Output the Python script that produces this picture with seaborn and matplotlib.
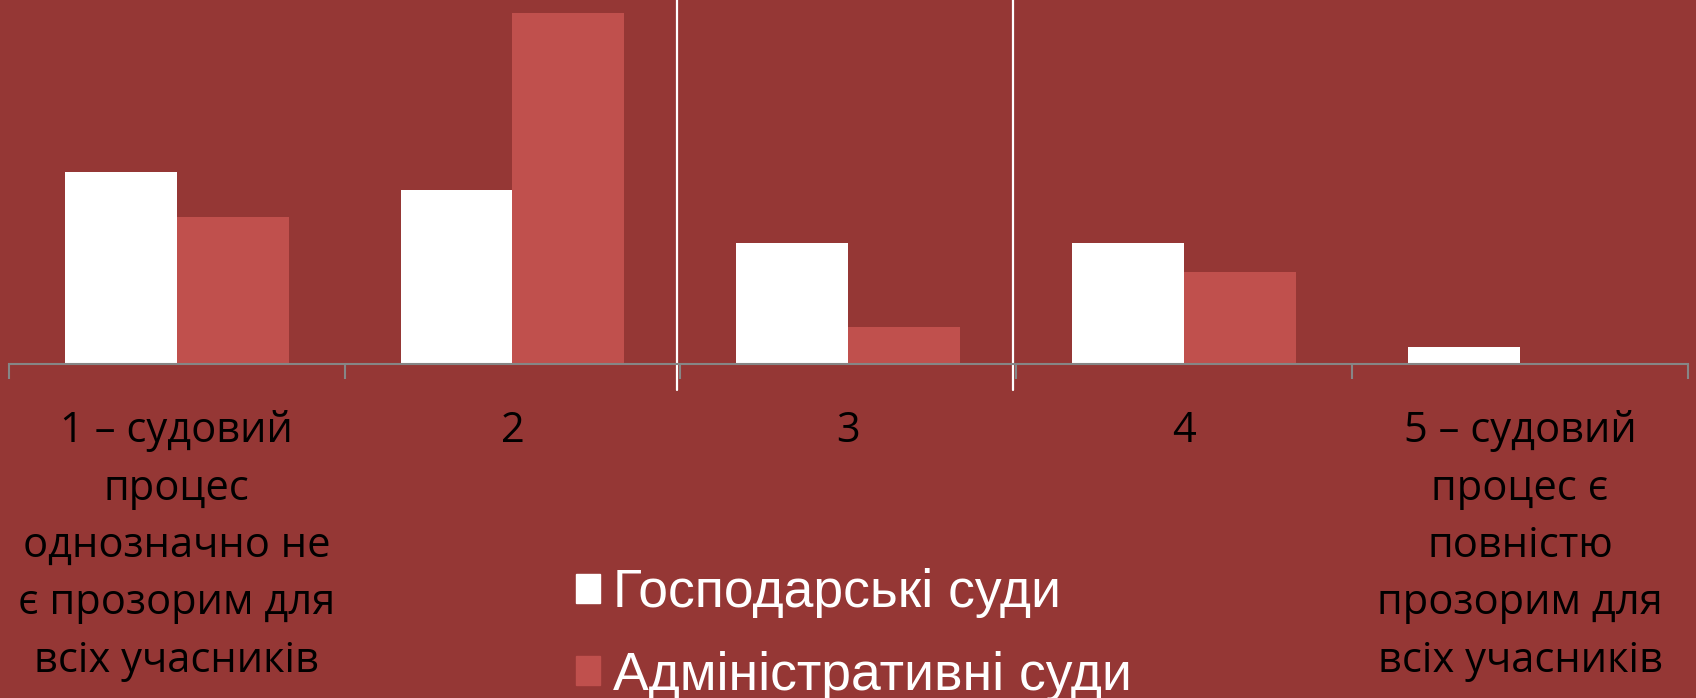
import pandas as pd
import matplotlib.pyplot as plt
import seaborn as sns

# Data (percent of respondents)
categories = ['1 – судовий\nпроцес\nоднозначно не\nє прозорим для\nвсіх учасників',
              '2', '3', '4',
              '5 – судовий\nпроцес є\nповністю\nпрозорим для\nвсіх учасників']
series = ['Господарські суди', 'Адміністративні суди']
commercial = [30.6, 27.8, 19.4, 19.4, 2.8]
administrative = [23.5, 55.9, 5.9, 14.7, 0.0]

df = pd.DataFrame({
    'Category': categories * 2,
    'Value': commercial + administrative,
    'Court': [series[0]] * 5 + [series[1]] * 5,
})

bg = '#953735'
color_map = {series[0]: '#FFFFFF', series[1]: '#C0504D'}
axis_gray = '#868686'

sns.set_style('white')
plt.rcParams['font.family'] = ['Open Sans', 'DejaVu Sans']

fig = plt.figure(figsize=(16.96, 6.98), dpi=100, facecolor=bg)
ax = fig.add_axes([0.0051, 0.4778, 0.9902, 0.5222])
ax.set_facecolor(bg)

sns.barplot(data=df, x='Category', y='Value', hue='Court', palette=color_map,
            width=2 / 3, linewidth=0, saturation=1, ax=ax, legend=False)

ax.set_xlim(-0.5, 4.5)
ax.set_ylim(0, 58)
ax.set_xlabel('')
ax.set_ylabel('')
ax.set_yticks([])

# category labels centred, tick marks at the category boundaries
ax.set_xticks(range(len(categories)))
ax.set_xticklabels(categories, fontsize=30, color='black', linespacing=1.48,
                   va='top', ha='center')
ax.tick_params(axis='x', which='major', length=0, pad=33)
ax.set_xticks([i - 0.5 for i in range(len(categories) + 1)], minor=True)
ax.tick_params(axis='x', which='minor', bottom=True, length=11, width=1.5,
               color=axis_gray, direction='out')

for side in ['top', 'left', 'right']:
    ax.spines[side].set_visible(False)
ax.spines['bottom'].set_color(axis_gray)
ax.spines['bottom'].set_linewidth(1.5)

# white divider lines from the slide
for xb in [1.49, 2.49]:
    ax.axvline(xb, ymin=-0.07, ymax=1, color='white', linewidth=1.6, clip_on=False)

# legend
handles = [plt.Rectangle((0, 0), 1, 1, color=color_map[s]) for s in series]
leg = fig.legend(handles, series, loc='center left', bbox_to_anchor=(0.3395, 0.091),
                 frameon=False, borderpad=0, borderaxespad=0,
                 handlelength=0.45, handleheight=0.45, handletextpad=0.25,
                 labelspacing=0.6, prop={'family': 'Liberation Sans', 'size': 38.5})
for t in leg.get_texts():
    t.set_color('white')

plt.savefig('out.png', dpi=100, facecolor=bg)
